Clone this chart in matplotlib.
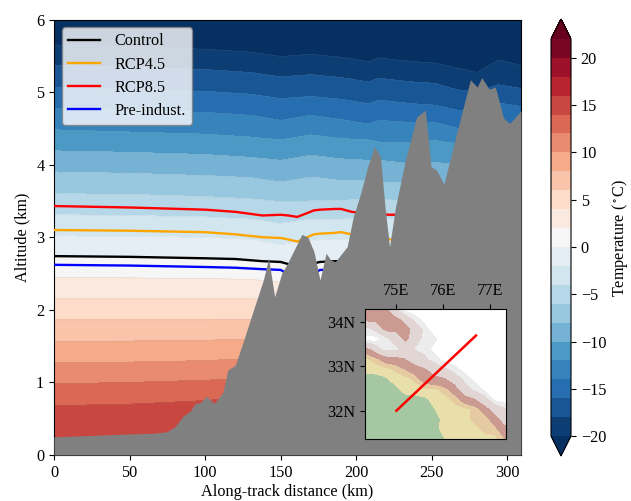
import numpy as np
import matplotlib
matplotlib.use("Agg")
import matplotlib.pyplot as plt
from matplotlib.colors import ListedColormap, BoundaryNorm

plt.rcParams['font.family'] = ['Liberation Serif', 'DejaVu Serif']
plt.rcParams['mathtext.fontset'] = 'stix'
plt.rcParams['font.size'] = 11.7

levels = np.arange(-20, 24, 2)
stations = np.array([0, 50, 100, 130, 150, 170, 190, 208, 215, 237, 252, 267, 280, 294, 309])
iso_temps = np.array([-24, -20, -18, -16, -14, -12, -10, -8, -6, -4, -2, 0, 2, 4, 6, 8, 10, 12, 14, 16])
iso_alts = np.array([
    [6.60, 6.60, 6.60, 6.60, 6.60, 6.60, 6.60, 6.60, 6.60, 6.60, 6.60, 6.60, 6.60, 6.60, 6.60],
    [5.65, 5.62, 5.59, 5.55, 5.49, 5.52, 5.48, 5.42, 5.47, 5.42, 5.40, 5.33, 5.27, 5.44, 5.37],
    [5.37, 5.34, 5.31, 5.27, 5.21, 5.24, 5.20, 5.14, 5.19, 5.14, 5.12, 5.03, 5.00, 5.10, 5.05],
    [5.07, 5.04, 5.01, 4.97, 4.91, 4.94, 4.90, 4.84, 4.89, 4.84, 4.82, 4.75, 4.72, 4.85, 4.80],
    [4.78, 4.75, 4.72, 4.68, 4.61, 4.68, 4.62, 4.56, 4.61, 4.58, 4.58, 4.50, 4.45, 4.55, 4.50],
    [4.48, 4.45, 4.42, 4.38, 4.34, 4.41, 4.36, 4.34, 4.31, 4.31, 4.33, 4.29, 4.25, 4.30, 4.30],
    [4.19, 4.17, 4.14, 4.10, 4.06, 4.13, 4.08, 4.06, 4.06, 4.01, 4.03, 4.00, 3.98, 4.00, 4.00],
    [3.90, 3.88, 3.85, 3.82, 3.76, 3.83, 3.78, 3.79, 3.76, 3.76, 3.74, 3.72, 3.70, 3.72, 3.72],
    [3.60, 3.59, 3.56, 3.53, 3.49, 3.50, 3.51, 3.52, 3.52, 3.50, 3.48, 3.46, 3.44, 3.46, 3.46],
    [3.31, 3.30, 3.28, 3.25, 3.19, 3.25, 3.25, 3.26, 3.26, 3.25, 3.24, 3.22, 3.20, 3.20, 3.20],
    [3.02, 3.01, 3.00, 2.97, 2.90, 2.96, 2.97, 2.97, 2.97, 2.96, 2.95, 2.94, 2.92, 2.92, 2.92],
    [2.73, 2.72, 2.71, 2.69, 2.64, 2.67, 2.67, 2.67, 2.67, 2.66, 2.65, 2.64, 2.62, 2.62, 2.62],
    [2.45, 2.44, 2.43, 2.42, 2.38, 2.38, 2.38, 2.38, 2.38, 2.38, 2.38, 2.38, 2.38, 2.38, 2.38],
    [2.15, 2.15, 2.15, 2.15, 2.14, 2.14, 2.14, 2.14, 2.14, 2.14, 2.14, 2.14, 2.14, 2.14, 2.14],
    [1.86, 1.86, 1.86, 1.87, 1.87, 1.87, 1.87, 1.87, 1.87, 1.87, 1.87, 1.87, 1.87, 1.87, 1.87],
    [1.56, 1.57, 1.58, 1.60, 1.60, 1.60, 1.60, 1.60, 1.60, 1.60, 1.60, 1.60, 1.60, 1.60, 1.60],
    [1.27, 1.28, 1.30, 1.33, 1.33, 1.33, 1.33, 1.33, 1.33, 1.33, 1.33, 1.33, 1.33, 1.33, 1.33],
    [0.98, 1.00, 1.03, 1.06, 1.08, 1.08, 1.08, 1.08, 1.08, 1.08, 1.08, 1.08, 1.08, 1.08, 1.08],
    [0.68, 0.70, 0.75, 0.80, 0.82, 0.82, 0.82, 0.82, 0.82, 0.82, 0.82, 0.82, 0.82, 0.82, 0.82],
    [0.20, 0.20, 0.20, 0.20, 0.20, 0.20, 0.20, 0.20, 0.20, 0.20, 0.20, 0.20, 0.20, 0.20, 0.20],
])

terrain_x = [0, 50, 66, 74.6, 80, 85.6, 90, 93.4, 96.7, 101, 106, 111.7, 115, 120, 125.5, 132, 138.5,
             142, 146, 150.8, 154, 164, 168, 172, 176, 180, 183, 186, 194, 198, 203, 207.5, 212, 216,
             219, 222, 226, 232.5, 240, 245.7, 249.5, 253, 258, 267, 275.5, 280, 283, 288, 292, 297.5,
             301.5, 309]
terrain_z = [0.25, 0.29, 0.30, 0.32, 0.39, 0.54, 0.60, 0.71, 0.72, 0.81, 0.71, 0.86, 1.17, 1.24, 1.58,
             2.00, 2.41, 2.71, 2.18, 2.51, 2.62, 3.04, 3.00, 2.80, 2.41, 2.78, 2.69, 2.66, 2.87, 3.28,
             3.61, 3.97, 4.25, 4.11, 3.42, 2.87, 3.42, 4.06, 4.66, 4.75, 3.97, 3.93, 3.73, 4.48, 5.17,
             5.07, 5.20, 5.04, 5.07, 4.64, 4.57, 4.74]

line_x = [0, 50, 100, 120, 138, 150, 155, 161, 172, 176, 186, 190, 197, 205, 222, 226]
control = [2.74, 2.73, 2.71, 2.70, 2.67, 2.66, 2.63, 2.62, 2.64, 2.66, 2.67, 2.67, 2.68, 2.68, 2.68, 2.68]
rcp45 = [3.10, 3.09, 3.07, 3.04, 3.00, 2.99, 2.97, 2.94, 3.04, 3.05, 3.06, 3.07, 3.04, 3.02, 2.97, 2.97]
rcp85 = [3.43, 3.41, 3.38, 3.35, 3.30, 3.31, 3.30, 3.28, 3.37, 3.38, 3.39, 3.39, 3.35, 3.33, 3.31, 3.31]
preind = [2.62, 2.61, 2.59, 2.58, 2.56, 2.55, 2.49, 2.45, 2.50, 2.55, 2.55, 2.55, 2.55, 2.55, 2.55, 2.55]
line_names = ['Control', 'RCP4.5', 'RCP8.5', 'Pre-indust.']
line_colors = ['black', 'orange', 'red', 'blue']

map_lon = np.linspace(74.33, 77.33, 15)
map_lat = np.linspace(34.30, 31.36, 14)
map_elev = np.array([
    [2.0, 2.0, 2.2, 3.6, 4.8, 5.0, 5.0, 5.0, 5.0, 5.0, 5.0, 5.0, 5.0, 5.0, 5.0],
    [2.0, 2.0, 2.0, 2.0, 3.0, 4.2, 4.8, 5.0, 5.0, 5.0, 5.0, 5.0, 5.0, 5.0, 5.0],
    [4.2, 3.6, 2.0, 2.0, 2.0, 3.0, 4.2, 5.0, 5.0, 5.0, 5.0, 5.0, 5.0, 5.0, 5.0],
    [4.8, 4.8, 4.2, 3.5, 2.0, 3.5, 4.2, 4.4, 5.0, 5.0, 5.0, 5.0, 5.0, 5.0, 5.0],
    [1.9, 3.0, 4.2, 4.2, 3.5, 4.0, 4.2, 4.8, 5.0, 5.0, 5.0, 5.0, 5.0, 5.0, 5.0],
    [0.9, 1.2, 1.9, 2.0, 2.5, 3.2, 3.8, 4.3, 4.8, 5.0, 5.0, 5.0, 5.0, 5.0, 5.0],
    [0.7, 0.7, 0.8, 1.1, 1.5, 2.0, 2.4, 3.2, 3.8, 4.3, 4.8, 5.0, 5.0, 5.0, 5.0],
    [0.3, 0.3, 0.4, 0.7, 0.8, 1.1, 2.0, 2.2, 2.4, 3.2, 4.2, 4.7, 5.0, 5.0, 5.0],
    [0.3, 0.3, 0.3, 0.35, 0.7, 0.8, 0.9, 0.9, 1.3, 2.0, 3.5, 4.2, 4.7, 5.0, 5.0],
    [0.3, 0.3, 0.3, 0.3, 0.3, 0.3, 0.4, 0.7, 0.8, 1.2, 2.0, 2.5, 3.5, 4.7, 5.0],
    [0.3, 0.3, 0.3, 0.3, 0.3, 0.3, 0.3, 0.5, 0.7, 0.8, 0.9, 1.1, 2.0, 3.2, 3.8],
    [0.3, 0.3, 0.3, 0.3, 0.3, 0.3, 0.3, 0.3, 0.7, 0.7, 0.8, 1.2, 1.2, 2.0, 3.2],
    [0.3, 0.3, 0.3, 0.3, 0.3, 0.3, 0.3, 0.35, 0.7, 0.7, 0.8, 0.8, 1.2, 1.3, 2.2],
    [0.3, 0.3, 0.3, 0.3, 0.3, 0.3, 0.3, 0.3, 0.5, 0.7, 0.7, 0.7, 0.7, 0.8, 1.5],
])
map_levels = [0, 0.5, 1.0, 1.5, 2.6, 4.0, 4.6, 5.5]
map_colors = ['#a5c8a2', '#e8dfab', '#e6cba2', '#cb9a90', '#e2d6d4', '#ececec', '#ffffff']
track_lon = [75.0, 76.70]
track_lat = [32.0, 33.70]

W, H = 631, 501
fig = plt.figure(figsize=(W / 100, H / 100), dpi=100)
def box(l, t, r, b):
    return [l / W, 1 - b / H, (r - l) / W, (b - t) / H]

ax = fig.add_axes(box(54, 19.5, 521, 455))
X = np.tile(stations, (len(iso_temps), 1))
T = np.tile(iso_temps[:, None], (1, len(stations)))
cf = ax.contourf(X, iso_alts, T, levels=levels, cmap='RdBu_r', extend='both')
ax.contour(X, iso_alts, T, levels=levels[:-4], colors='#999999', linewidths=0.3, alpha=0.3)
for vals, name, c in zip([control, rcp45, rcp85, preind], line_names, line_colors):
    ax.plot(line_x, vals, color=c, lw=1.7, label=name, zorder=3)
ax.fill_between(terrain_x, 0, terrain_z, color='gray', lw=0, zorder=4)
ax.set_xlim(0, 309)
ax.set_ylim(0, 6)
ax.set_xticks(range(0, 301, 50))
ax.set_yticks(range(0, 7))
ax.set_xlabel('Along-track distance (km)', labelpad=2)
ax.set_ylabel('Altitude (km)', labelpad=4)
leg = ax.legend(loc='upper left', fontsize=11.7, borderaxespad=0.48, labelspacing=0.44,
                borderpad=0.38, handletextpad=0.85)
leg.set_zorder(6)
leg.get_frame().set_edgecolor('gray')

cax = fig.add_axes(box(551, 19, 571, 456))
cb = fig.colorbar(cf, cax=cax, ticks=range(-20, 21, 5))
cb.set_label(r'Temperature ($^\circ$C)', labelpad=3)

mp = fig.add_axes(box(365, 309, 505.5, 439))
mp.contourf(map_lon, map_lat, map_elev, levels=map_levels,
            cmap=ListedColormap(map_colors), norm=BoundaryNorm(map_levels, len(map_colors)))
mp.plot(track_lon, track_lat, color='red', lw=1.8)
mp.set_xlim(74.33, 77.33)
mp.set_ylim(31.36, 34.30)
mp.set_xticks([75, 76, 77])
mp.set_xticklabels(['75E', '76E', '77E'])
mp.set_yticks([32, 33, 34])
mp.set_yticklabels(['32N', '33N', '34N'])
mp.xaxis.tick_top()
mp.set_zorder(7)

fig.savefig('out.png', dpi=100)
